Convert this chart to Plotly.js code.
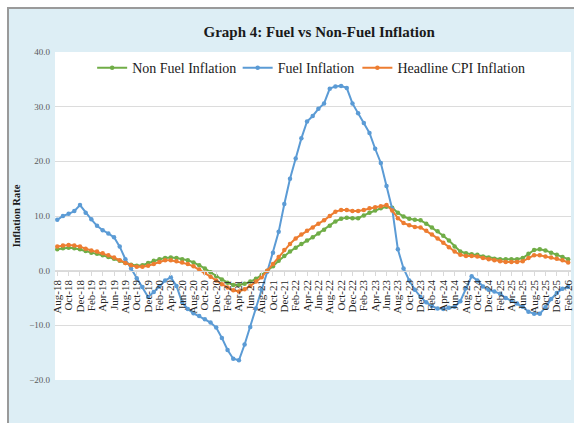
<!DOCTYPE html>
<html>
<head>
<meta charset="utf-8">
<script src="https://cdn.plot.ly/plotly-3.0.1.min.js"></script>
<style>
  html, body { margin: 0; padding: 0; background: #ffffff; overflow: hidden; }
  #frame { position: absolute; left: 7px; top: 7px; width: 620px; height: 460px;
           background: #ddeef5; border-left: 2px solid #9a9a9a; border-top: 2px solid #9a9a9a; }
  #chart { position: absolute; left: 0; top: 0; width: 574px; height: 423px; }
</style>
</head>
<body>
<div id="frame"></div>
<div id="chart"></div>
<script>
const months = [
  "Aug-18","Sep-18","Oct-18","Nov-18","Dec-18",
  "Jan-19","Feb-19","Mar-19","Apr-19","May-19","Jun-19","Jul-19","Aug-19","Sep-19","Oct-19","Nov-19","Dec-19",
  "Jan-20","Feb-20","Mar-20","Apr-20","May-20","Jun-20","Jul-20","Aug-20","Sep-20","Oct-20","Nov-20","Dec-20",
  "Jan-21","Feb-21","Mar-21","Apr-21","May-21","Jun-21","Jul-21","Aug-21","Sep-21","Oct-21","Nov-21","Dec-21",
  "Jan-22","Feb-22","Mar-22","Apr-22","May-22","Jun-22","Jul-22","Aug-22","Sep-22","Oct-22","Nov-22","Dec-22",
  "Jan-23","Feb-23","Mar-23","Apr-23","May-23","Jun-23","Jul-23","Aug-23","Sep-23","Oct-23","Nov-23","Dec-23",
  "Jan-24","Feb-24","Mar-24","Apr-24","May-24","Jun-24","Jul-24","Aug-24","Sep-24","Oct-24","Nov-24","Dec-24",
  "Jan-25","Feb-25","Mar-25","Apr-25","May-25","Jun-25","Jul-25","Aug-25","Sep-25","Oct-25","Nov-25","Dec-25",
  "Jan-26","Feb-26"
];

const tickLabels = [
  "Aug-18","Oct-18","Dec-18","Feb-19","Apr-19","Jun-19","Aug-19","Oct-19","Dec-19",
  "Feb-20","Apr-20","Jun-20","Aug-20","Oct-20","Dec-20","Feb-21","Apr-21","Jun-21","Aug-21","Oct-21","Dec-21",
  "Feb-22","Apr-22","Jun-22","Aug-22","Oct-22","Dec-22","Feb-23","Apr-23","Jun-23","Aug-23","Oct-23","Dec-23",
  "Feb-24","Apr-24","Jun-24","Aug-24","Oct-24","Dec-24","Feb-25","Apr-25","Jun-25","Aug-25","Oct-25","Dec-25",
  "Feb-26"
];

const nonFuelInflation = [
  3.9, 4.1, 4.2, 4.1, 3.9, 3.6, 3.3, 3.1, 2.8, 2.5,
  2.2, 1.8, 1.4, 1.1, 0.9, 1.0, 1.4, 1.8, 2.1, 2.3,
  2.4, 2.3, 2.1, 1.9, 1.5, 1.0, 0.4, -0.3, -1.0, -1.6,
  -2.2, -2.6, -2.6, -2.4, -2.0, -1.5, -0.8, 0.0, 0.8, 1.8,
  2.7, 3.5, 4.2, 4.9, 5.5, 6.1, 6.8, 7.5, 8.2, 9.0,
  9.5, 9.7, 9.6, 9.6, 10.1, 10.6, 11.0, 11.4, 11.7, 11.5,
  10.6, 9.9, 9.5, 9.3, 9.2, 8.6, 7.9, 7.2, 6.4, 5.5,
  4.4, 3.5, 3.2, 3.0, 2.9, 2.6, 2.4, 2.2, 2.1, 2.1,
  2.1, 2.1, 2.3, 3.1, 3.8, 3.9, 3.7, 3.3, 2.9, 2.5,
  2.1
];

const fuelInflation = [
  9.3, 10.0, 10.4, 10.9, 12.0, 10.6, 9.4, 8.2, 7.4, 6.8,
  6.1, 4.4, 2.1, 0.4, -1.4, -3.0, -4.8, -3.9, -2.9, -1.8,
  -1.2, -2.8, -5.8, -7.0, -7.8, -8.3, -8.9, -9.5, -10.4, -12.3,
  -14.5, -16.1, -16.4, -13.5, -10.3, -6.9, -3.5, -0.2, 3.3, 7.1,
  12.2, 16.8, 20.5, 24.2, 27.3, 28.3, 29.6, 30.6, 33.3, 33.7,
  33.8, 33.4, 30.6, 28.8, 27.0, 25.2, 22.3, 19.7, 15.5, 11.3,
  3.9, 0.4, -1.8, -3.5, -4.8, -5.8, -6.5, -6.9, -7.0, -6.8,
  -6.6, -5.6, -3.2, -1.0, -1.8, -2.9, -3.5, -3.8, -4.2, -5.0,
  -5.5, -6.0, -6.6, -7.5, -7.9, -7.9, -6.7, -5.2, -4.1, -3.3,
  -3.0
];

const headlineCPI = [
  4.4, 4.6, 4.7, 4.6, 4.4, 4.0, 3.7, 3.5, 3.2, 2.8,
  2.4, 1.9, 1.4, 1.0, 0.7, 0.7, 0.9, 1.2, 1.6, 1.9,
  1.9, 1.7, 1.5, 1.2, 0.8, 0.2, -0.4, -1.1, -1.8, -2.5,
  -3.1, -3.6, -3.8, -3.4, -2.8, -2.0, -1.2, 0.0, 1.2, 2.5,
  3.8, 4.9, 5.9, 6.6, 7.3, 7.9, 8.6, 9.2, 10.0, 10.8,
  11.1, 11.1, 10.9, 10.9, 11.1, 11.4, 11.6, 11.8, 12.0, 11.0,
  9.6, 8.7, 8.3, 8.0, 7.9, 7.3, 6.6, 5.9, 5.1, 4.3,
  3.5, 2.9, 2.7, 2.7, 2.6, 2.3, 2.1, 1.9, 1.7, 1.6,
  1.6, 1.6, 1.7, 2.3, 2.8, 2.8, 2.6, 2.4, 2.2, 1.9,
  1.5
];

const serif = "Liberation Serif, Times New Roman, serif";

function series(name, y, color, legendId) {
  return {
    type: "scatter", mode: "lines+markers", name: name,
    x: months, y: y, legend: legendId,
    line: { color: color, width: 2 },
    marker: { color: color, size: 4.5, symbol: "circle" }
  };
}

const traces = [
  series("Non Fuel Inflation", nonFuelInflation, "#70ad47", "legend"),
  series("Fuel Inflation", fuelInflation, "#5b9bd5", "legend2"),
  series("Headline CPI Inflation", headlineCPI, "#ed7d31", "legend3")
];

function legendAt(x) {
  return {
    orientation: "h", x: x, y: 0.951, xanchor: "left", yanchor: "middle",
    font: { family: serif, size: 14, color: "#1a1a1a" },
    bgcolor: "rgba(0,0,0,0)", itemwidth: 30
  };
}

const layout = {
  width: 574, height: 423,
  margin: { l: 55, r: 3, t: 52, b: 43, pad: 0 },
  paper_bgcolor: "rgba(0,0,0,0)",
  plot_bgcolor: "#ffffff",
  showlegend: true,
  title: {
    text: "<b>Graph 4: Fuel vs Non-Fuel Inflation</b>",
    font: { family: serif, size: 15, color: "#1a1a1a" },
    xref: "container", yref: "container",
    x: 0.556, y: 0.924, xanchor: "center", yanchor: "middle"
  },
  legend: legendAt(0.072),
  legend2: legendAt(0.354),
  legend3: legendAt(0.586),
  xaxis: {
    type: "category",
    range: [-0.4, 90.5],
    anchor: "free", position: 1/3,
    tickmode: "array", tickvals: tickLabels,
    tickangle: -90,
    tickfont: { family: serif, size: 11, color: "#262626" },
    showgrid: false, zeroline: false,
    showline: true, linecolor: "#d9d9d9", linewidth: 1,
    ticks: "outside", ticklen: 4, tickcolor: "#d9d9d9",
    automargin: false
  },
  yaxis: {
    range: [-20, 40], dtick: 10, tick0: 0,
    tickformat: ".1f",
    tickfont: { family: serif, size: 9, color: "#595959" },
    ticklabelstandoff: 4,
    showgrid: true, gridcolor: "#dcdcdc", gridwidth: 1,
    zeroline: false, showline: false, ticks: "",
    automargin: false,
    title: {
      text: "<b>Inflation Rate</b>",
      font: { family: serif, size: 10.5, color: "#1a1a1a" },
      standoff: 6
    }
  }
};

Plotly.newPlot("chart", traces, layout, { displayModeBar: false, staticPlot: true });
</script>
</body>
</html>
